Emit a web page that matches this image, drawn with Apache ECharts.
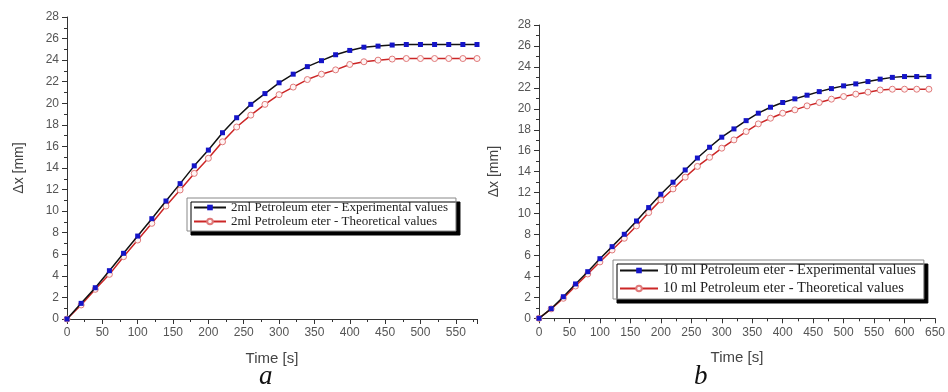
<!DOCTYPE html>
<html>
<head>
<meta charset="utf-8">
<script src="https://cdn.jsdelivr.net/npm/echarts@6/dist/echarts.min.js"></script>
<style>
html,body{margin:0;padding:0;background:#fff;}
#c{width:948px;height:392px;}
</style>
</head>
<body>
<div id="c"></div>
<script>
// ---- Data ----
var timeA = [0,20,40,60,80,100,120,140,160,180,200,220,240,260,280,300,320,340,360,380,400,420,440,460,480,500,520,540,560,580];
var expA  = [0,1.45,2.9,4.48,6.09,7.69,9.3,10.94,12.55,14.2,15.66,17.27,18.66,19.9,20.9,21.9,22.7,23.4,23.95,24.5,24.9,25.2,25.3,25.4,25.45,25.45,25.45,25.45,25.45,25.45];
var theoA = [0,1.3,2.75,4.14,5.78,7.32,8.87,10.47,11.96,13.5,14.9,16.43,17.8,18.9,19.9,20.8,21.5,22.2,22.7,23.1,23.6,23.85,24.0,24.1,24.15,24.15,24.15,24.15,24.15,24.15];

var timeB = [0,20,40,60,80,100,120,140,160,180,200,220,240,260,280,300,320,340,360,380,400,420,440,460,480,500,520,540,560,580,600,620,640];
var expB  = [0,0.92,2.06,3.28,4.45,5.69,6.84,8.02,9.29,10.57,11.84,12.99,14.16,15.3,16.33,17.29,18.08,18.87,19.58,20.15,20.6,20.95,21.3,21.64,21.93,22.19,22.38,22.6,22.83,23.0,23.08,23.08,23.08];
var theoB = [0,0.9,1.91,3.08,4.23,5.38,6.52,7.64,8.82,10.09,11.3,12.35,13.47,14.5,15.37,16.24,17.03,17.83,18.56,19.1,19.58,19.9,20.28,20.6,20.92,21.17,21.4,21.59,21.8,21.87,21.87,21.87,21.87];

var namesA = ['2ml Petroleum eter - Experimental values','2ml Petroleum eter - Theoretical values'];
var namesB = ['10 ml Petroleum eter - Experimental values','10 ml Petroleum eter - Theoretical values'];
var panelLabels = ['a','b'];

function zip(x, y){ return x.map(function(v,i){ return [v, y[i]]; }); }

var SANS = '"Liberation Sans", Arial, sans-serif';
var SERIF = '"Liberation Serif", "Times New Roman", serif';
var axisCol = '#333';
var labCol = '#555';

function xAxis(gi, max){
  return {
    type:'value', gridIndex:gi, min:0, max:max, interval:50,
    name:'Time [s]', nameLocation:'middle', nameGap:32,
    nameTextStyle:{fontFamily:SANS, fontSize:15, color:'#444'},
    axisLine:{show:true, lineStyle:{color:axisCol, width:1}},
    axisTick:{show:true, length:5, inside:false, lineStyle:{color:axisCol}},
    minorTick:{show:true, splitNumber:2, length:3, lineStyle:{color:axisCol}},
    axisLabel:{fontFamily:SANS, fontSize:12, color:labCol, margin:8, showMaxLabel: max % 50 === 0},
    splitLine:{show:false}
  };
}
function yAxis(gi, gap){
  return {
    type:'value', gridIndex:gi, min:0, max:28, interval:2,
    name:'\u0394x [mm]', nameLocation:'middle', nameGap:gap, nameRotate:90,
    nameTextStyle:{fontFamily:SANS, fontSize:14, color:'#444'},
    axisLine:{show:true, lineStyle:{color:axisCol, width:1}},
    axisTick:{show:true, length:5, lineStyle:{color:axisCol}},
    minorTick:{show:true, splitNumber:2, length:3, lineStyle:{color:axisCol}},
    axisLabel:{fontFamily:SANS, fontSize:12, color:labCol, margin:8},
    splitLine:{show:false}
  };
}
function expSeries(name, gi, data){
  return {
    name:name, type:'line', xAxisIndex:gi, yAxisIndex:gi, data:data,
    symbol:'rect', symbolSize:5, showSymbol:true,
    lineStyle:{color:'#111', width:1.5},
    itemStyle:{color:'#1515c8', borderWidth:0},
    emphasis:{disabled:true}, animation:false, z:3
  };
}
function theoSeries(name, gi, data){
  return {
    name:name, type:'line', xAxisIndex:gi, yAxisIndex:gi, data:data,
    symbol:'circle', symbolSize:6, showSymbol:true,
    lineStyle:{color:'#cc2626', width:1.5},
    itemStyle:{color:'#fff4f4', borderColor:'#e07a7a', borderWidth:1},
    emphasis:{disabled:true}, animation:false, z:2
  };
}
function legend(names, left, top, w, fs, gap){
  return {
    data:names, orient:'vertical', left:left, top:top, itemWidth:w, itemHeight:7, itemGap:gap,
    padding:[3,8,3,6],
    backgroundColor:'#fff', borderColor:'#888', borderWidth:1,
    shadowColor:'#000', shadowBlur:0, shadowOffsetX:4, shadowOffsetY:4,
    textStyle:{fontFamily:SERIF, fontSize:fs, color:'#222'},
    selectedMode:false
  };
}

var chart = echarts.init(document.getElementById('c'), null, {renderer:'canvas'});
chart.setOption({
  backgroundColor:'#fff',
  animation:false,
  title:[
    {text:panelLabels[0], left:254, top:358, textStyle:{fontFamily:SERIF, fontStyle:'italic', fontWeight:'normal', fontSize:27, color:'#111'}},
    {text:panelLabels[1], left:689, top:358, textStyle:{fontFamily:SERIF, fontStyle:'italic', fontWeight:'normal', fontSize:27, color:'#111'}}
  ],
  grid:[
    {left:67, top:17, width:410, height:302, containLabel:false},
    {left:539, top:25, width:399.5, height:293.3, containLabel:false}
  ],
  xAxis:[xAxis(0,580), xAxis(1,650)],
  yAxis:[yAxis(0,41), yAxis(1,38)],
  legend:[legend(namesA, 187, 198, 32, 13, 1), legend(namesB, 613, 260, 38, 14.5, 3)],
  series:[
    expSeries(namesA[0], 0, zip(timeA, expA)),
    theoSeries(namesA[1], 0, zip(timeA, theoA)),
    expSeries(namesB[0], 1, zip(timeB, expB)),
    theoSeries(namesB[1], 1, zip(timeB, theoB))
  ]
});
</script>
</body>
</html>
